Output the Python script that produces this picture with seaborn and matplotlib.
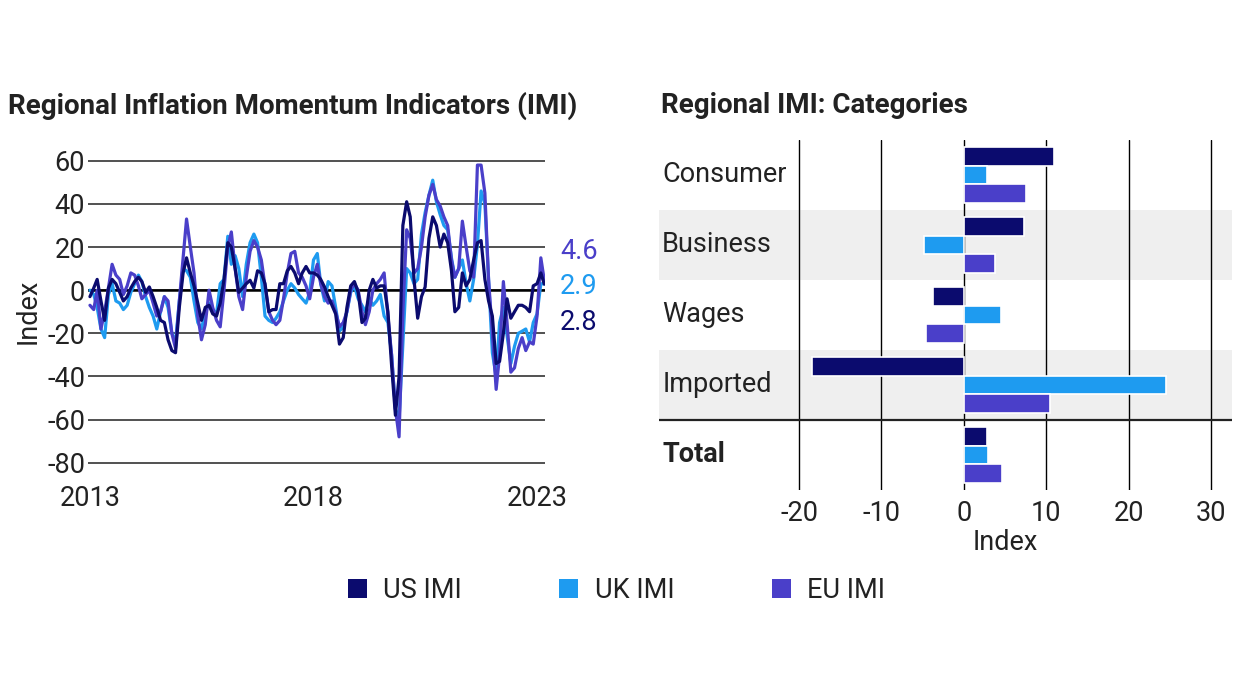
import numpy as np
import pandas as pd
import matplotlib
matplotlib.use("Agg")
import matplotlib.pyplot as plt
from matplotlib.patches import Patch
import seaborn as sns

# monthly IMI readings, Jan 2013 - Mar 2023
months = pd.date_range("2013-01-01", "2023-03-01", freq="MS")

us_imi = [
    -3, 1, 5, -5, -14, 1, 5, 3, -1, -5,
    -3, 1, 4, 6, 4, -1, 1.5, -3, -8, -14,
    -15, -23, -28, -29, -8, 8, 15, 8, 2, -6,
    -14, -8, -7, -11, -12, -6, 5, 22, 20, 10,
    -1, 1, 3, 4.6, 1, 9, 8, 3, -10, -9,
    -9, 3, 3, 9, 11, 8, 3, 8, 11, 8,
    8, 7, 5, 1.5, -3, -7, -11, -25, -22, -8,
    2, 4, -1, -15, -13, 0, 5, 1, 2, 2,
    -10, -35, -58, -40, 30, 41, 34, 5, -13, -3,
    1.5, 24, 34, 30, 20, 26, 22, 9, -10, -8,
    8, 2, 5, 14, 22, 23, 5, -5, -12, -34,
    -33, -20, -4, -13, -10, -7, -7, -8, -10, 2,
    3, 8, 2.8,
]

uk_imi = [
    0, -2, -8, -18, -22, -2, 3, -5, -6, -9,
    -7, -1, 3, 7, 4, -3, -8, -12, -18, -10,
    -3, -8, -20, -24, -5, 10, 9, 6, -5, -15,
    -18, -10, -6, -9, -11, 3, 5, 25, 12, 16,
    10, -3, 12, 22, 26, 22, 6, -12, -14, -15,
    -13, -10, -5, 0, 3, 1, -2, -4, -6, -1,
    14, 17, 3, -5, 4, 2, -8, -19, -17, -10,
    -1, 2, -4, -7, -10, -4, -7, -5, -2, -12,
    -15, -30, -55, -60, -25, 10, 8, 3, 5, 26,
    36, 44, 51, 41, 35, 30, 28, 15, 6, 10,
    14, 3, -5, 5, 21, 46, 40, 5, -29, -40,
    -15, -8, -21, -34, -26, -20, -19, -18, -24, -15,
    -11, 3, 2.9,
]

eu_imi = [
    -7, -9, 0, -18, -10, 1, 12, 7, 5, -2,
    2, 8, 7, 2, -4, -2, 0, -6, -12, -10,
    -3, -5, -20, -27, -5, 15, 33, 20, 8, -12,
    -23, -16, 0, -8, -14, -17, 0, 20, 27, 10,
    -3, -9, 6, 18, 23, 20, 14, 2, -10, -14,
    -16, -14, -4, 8, 17, 18, 8, 6, 2, -4,
    6, 12, 3, -3, -6, -5, -10, -17, -15, -10,
    0, 3, 0, -10, -16, -10, 0, 3, 5, 8,
    -12, -30, -55, -68, -10, 28, 24, 8, 10, 20,
    34, 44, 49, 42, 39, 34, 30, 14, 6, 10,
    32, 20, 9, 6, 58, 58, 45, 5, -20, -46,
    -30, 4, -15, -38, -36, -27, -22, -28, -24, -25,
    -12, 15, 4.6,
]

categories = ["Consumer", "Business", "Wages", "Imported", "Total"]
us_cat = [10.9, 7.3, -3.8, -18.4, 2.8]
uk_cat = [2.8, -4.9, 4.5, 24.5, 2.9]
eu_cat = [7.5, 3.8, -4.6, 10.5, 4.6]

regions = ["US IMI", "UK IMI", "EU IMI"]
palette = {"US IMI": "#0b0b6e", "UK IMI": "#1e9bf0", "EU IMI": "#4a3fc9"}

lines = pd.DataFrame({
    "date": list(months) * 3,
    "value": us_imi + uk_imi + eu_imi,
    "region": ["US IMI"] * len(months) + ["UK IMI"] * len(months) + ["EU IMI"] * len(months),
})

bars = pd.DataFrame({
    "category": categories * 3,
    "value": us_cat + uk_cat + eu_cat,
    "region": ["US IMI"] * 5 + ["UK IMI"] * 5 + ["EU IMI"] * 5,
})

sns.set_theme(style="white")
plt.rcParams["font.family"] = ["Roboto", "DejaVu Sans"]
plt.rcParams["axes.unicode_minus"] = False
text_col = "#222222"
fs = 19.5

fig = plt.figure(figsize=(12.48, 7.0), dpi=100)

# ---- left: time series ----
ax1 = fig.add_axes([0.0705, 0.3328, 0.3662, 0.4437])

sns.lineplot(
    data=lines,
    x="date",
    y="value",
    hue="region",
    hue_order=["UK IMI", "EU IMI", "US IMI"],
    palette=palette,
    linewidth=2.3,
    legend=False,
    ax=ax1,
)

ax1.set_ylim(-82, 62)
ax1.set_xlim(months[0] - pd.Timedelta(days=16), months[-1] + pd.Timedelta(days=6))
ax1.set_yticks(range(-80, 61, 20))
ax1.yaxis.grid(True, color="#333333", linewidth=1.2)
ax1.xaxis.grid(False)
ax1.axhline(0, color="black", linewidth=1.8, zorder=1)
ax1.set_axisbelow(True)
for s in ax1.spines.values():
    s.set_visible(False)

ax1.set_xticks(pd.to_datetime(["2013-01-01", "2018-01-01", "2023-01-01"]))
ax1.set_xticklabels(["2013", "2018", "2023"])
ax1.tick_params(axis="both", length=0, labelsize=fs, colors=text_col)
ax1.tick_params(axis="y", pad=2)
ax1.tick_params(axis="x", pad=13)
ax1.set_xlabel("")
ax1.set_ylabel("Index", fontsize=fs, color=text_col, labelpad=4)

# latest readings next to the lines
end_labels = [(eu_cat[-1], 18, "EU IMI"), (uk_cat[-1], 1.5, "UK IMI"), (us_cat[-1], -15, "US IMI")]
for val, ypos, reg in end_labels:
    ax1.text(1.033, ypos, f"{val:.1f}", transform=ax1.get_yaxis_transform(),
             fontsize=fs, color=palette[reg], va="center", ha="left")

fig.text(0.0065, 0.849, "Regional Inflation Momentum Indicators (IMI)",
         fontsize=20, fontweight="bold", color=text_col, va="center", ha="left")

# ---- right: categories ----
ax2 = fig.add_axes([0.528, 0.3, 0.459, 0.5])

ax2.axhspan(0.5, 1.5, color="#efefef", zorder=0, linewidth=0)
ax2.axhspan(2.5, 3.5, color="#efefef", zorder=0, linewidth=0)

sns.barplot(
    data=bars,
    x="value",
    y="category",
    hue="region",
    hue_order=regions,
    order=categories,
    palette=palette,
    saturation=1,
    orient="h",
    width=0.8,
    edgecolor="white",
    linewidth=1.2,
    legend=False,
    ax=ax2,
)

ax2.set_xlim(-37, 32.5)
ax2.set_ylim(4.5, -0.5)
ax2.set_xticks(range(-20, 31, 10))
ax2.xaxis.grid(True, color="black", linewidth=1.0)
ax2.yaxis.grid(False)
ax2.set_axisbelow(True)
ax2.axhline(3.5, color="#222222", linewidth=1.6, zorder=1)
for s in ax2.spines.values():
    s.set_visible(False)
ax2.tick_params(axis="y", left=False, labelleft=False)
ax2.tick_params(axis="x", length=0, labelsize=fs, colors=text_col, pad=7)
ax2.set_ylabel("")
ax2.set_xlabel("Index", fontsize=fs, color=text_col, labelpad=2)
ax2.xaxis.label.set_x((5 + 37) / (32.5 + 37))

for i, cat in enumerate(categories):
    ax2.text(-36.6, i, cat, fontsize=fs, color=text_col, va="center", ha="left",
             fontweight="bold" if cat == "Total" else "normal")

fig.text(0.5295, 0.849, "Regional IMI: Categories",
         fontsize=20, fontweight="bold", color=text_col, va="center", ha="left")

# ---- shared legend ----
handles = [Patch(facecolor=palette[r], edgecolor="none") for r in regions]
fig.legend(
    handles,
    regions,
    loc="center",
    bbox_to_anchor=(0.494, 0.157),
    ncol=3,
    frameon=False,
    fontsize=fs,
    handlelength=0.7,
    handleheight=0.7,
    handletextpad=0.6,
    columnspacing=3.6,
    labelcolor=text_col,
)

fig.savefig("out.png", dpi=100)
